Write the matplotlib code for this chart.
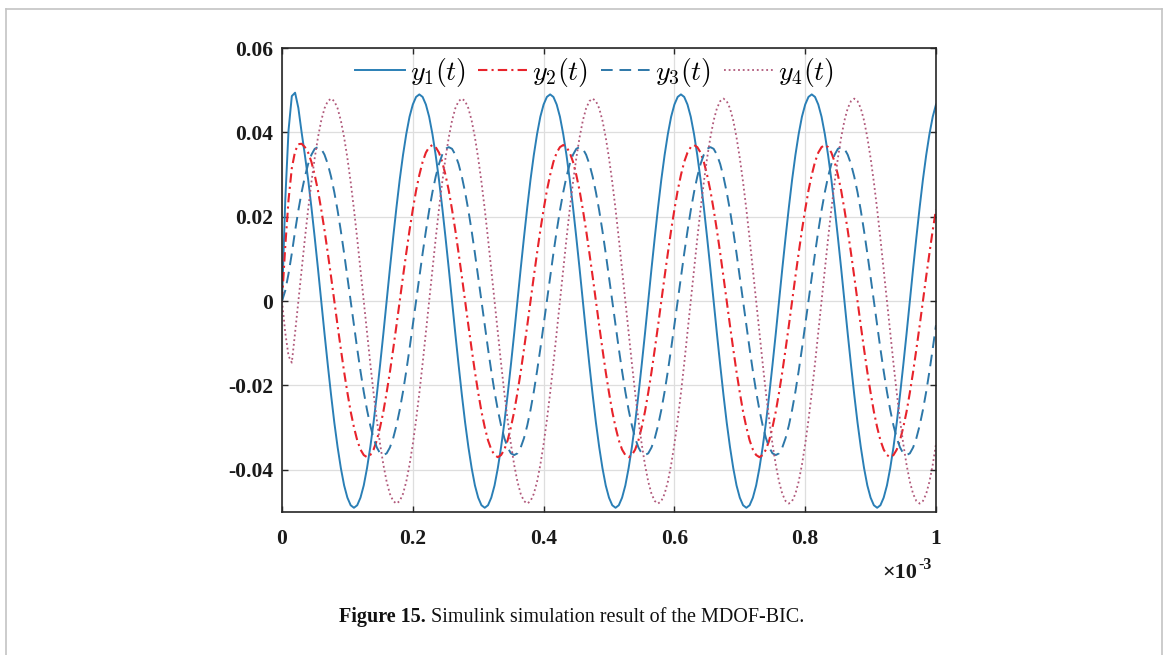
import numpy as np
import matplotlib
matplotlib.use('Agg')
import matplotlib.pyplot as plt
from matplotlib.lines import Line2D

plt.rcParams['mathtext.fontset'] = 'cm'

# ---------------- data (units of 1e-3) -------------
time_step = 0.005  # x-axis units (x 10^-3 s)

y1_milli = [
    0.0, 24.0, 40.5, 48.6, 49.4, 45.8, 40.0,
    34.6, 28.8, 22.2, 15.1, 7.7, 0.0, -7.7, -15.1, -22.2, -28.8, -34.6, -39.6, -43.7, -46.6, -48.4,
    -49.0, -48.4, -46.6, -43.7, -39.6, -34.6, -28.8, -22.2, -15.1, -7.7, 0.0, 7.7, 15.1, 22.2, 28.8, 34.6, 39.6, 43.7, 46.6, 48.4,
    49.0, 48.4, 46.6, 43.7, 39.6, 34.6, 28.8, 22.2, 15.1, 7.7, 0.0, -7.7, -15.1, -22.2, -28.8, -34.6, -39.6, -43.7, -46.6, -48.4,
    -49.0, -48.4, -46.6, -43.7, -39.6, -34.6, -28.8, -22.2, -15.1, -7.7, 0.0, 7.7, 15.1, 22.2, 28.8, 34.6, 39.6, 43.7, 46.6, 48.4,
    49.0, 48.4, 46.6, 43.7, 39.6, 34.6, 28.8, 22.2, 15.1, 7.7, 0.0, -7.7, -15.1, -22.2, -28.8, -34.6, -39.6, -43.7, -46.6, -48.4,
    -49.0, -48.4, -46.6, -43.7, -39.6, -34.6, -28.8, -22.2, -15.1, -7.7, 0.0, 7.7, 15.1, 22.2, 28.8, 34.6, 39.6, 43.7, 46.6, 48.4,
    49.0, 48.4, 46.6, 43.7, 39.6, 34.6, 28.8, 22.2, 15.1, 7.7, 0.0, -7.7, -15.1, -22.2, -28.8, -34.6, -39.6, -43.7, -46.6, -48.4,
    -49.0, -48.4, -46.6, -43.7, -39.6, -34.6, -28.8, -22.2, -15.1, -7.7, 0.0, 7.7, 15.1, 22.2, 28.8, 34.6, 39.6, 43.7, 46.6, 48.4,
    49.0, 48.4, 46.6, 43.7, 39.6, 34.6, 28.8, 22.2, 15.1, 7.7, 0.0, -7.7, -15.1, -22.2, -28.8, -34.6, -39.6, -43.7, -46.6, -48.4,
    -49.0, -48.4, -46.6, -43.7, -39.6, -34.6, -28.8, -22.2, -15.1, -7.7, 0.0, 7.7, 15.1, 22.2, 28.8, 34.6, 39.6, 43.7, 46.6,
]

y2_milli = [
    0.0, 13.0, 24.0, 31.5, 35.5, 37.2, 37.3,
    36.5, 35.2, 33.0, 29.9, 26.2, 21.7, 16.8, 11.4, 5.8, 0.0, -5.8, -11.4, -16.8, -21.7, -26.2, -29.9, -33.0, -35.2, -36.5,
    -37.0, -36.5, -35.2, -33.0, -29.9, -26.2, -21.7, -16.8, -11.4, -5.8, 0.0, 5.8, 11.4, 16.8, 21.7, 26.2, 29.9, 33.0, 35.2, 36.5,
    37.0, 36.5, 35.2, 33.0, 29.9, 26.2, 21.7, 16.8, 11.4, 5.8, 0.0, -5.8, -11.4, -16.8, -21.7, -26.2, -29.9, -33.0, -35.2, -36.5,
    -37.0, -36.5, -35.2, -33.0, -29.9, -26.2, -21.7, -16.8, -11.4, -5.8, 0.0, 5.8, 11.4, 16.8, 21.7, 26.2, 29.9, 33.0, 35.2, 36.5,
    37.0, 36.5, 35.2, 33.0, 29.9, 26.2, 21.7, 16.8, 11.4, 5.8, 0.0, -5.8, -11.4, -16.8, -21.7, -26.2, -29.9, -33.0, -35.2, -36.5,
    -37.0, -36.5, -35.2, -33.0, -29.9, -26.2, -21.7, -16.8, -11.4, -5.8, 0.0, 5.8, 11.4, 16.8, 21.7, 26.2, 29.9, 33.0, 35.2, 36.5,
    37.0, 36.5, 35.2, 33.0, 29.9, 26.2, 21.7, 16.8, 11.4, 5.8, 0.0, -5.8, -11.4, -16.8, -21.7, -26.2, -29.9, -33.0, -35.2, -36.5,
    -37.0, -36.5, -35.2, -33.0, -29.9, -26.2, -21.7, -16.8, -11.4, -5.8, 0.0, 5.8, 11.4, 16.8, 21.7, 26.2, 29.9, 33.0, 35.2, 36.5,
    37.0, 36.5, 35.2, 33.0, 29.9, 26.2, 21.7, 16.8, 11.4, 5.8, 0.0, -5.8, -11.4, -16.8, -21.7, -26.2, -29.9, -33.0, -35.2, -36.5,
    -37.0, -36.5, -35.2, -33.0, -29.9, -26.2, -21.7, -16.8, -11.4, -5.8, 0.0, 5.8, 11.4, 16.8, 21.7,
]

y3_milli = [
    0.0, 2.5, 6.5,
    11.3, 16.6, 21.5, 25.8, 29.5, 32.5, 34.7, 36.1,
    36.5, 36.1, 34.7, 32.5, 29.5, 25.8, 21.5, 16.6, 11.3, 5.7, 0.0, -5.7, -11.3, -16.6, -21.5, -25.8, -29.5, -32.5, -34.7, -36.1,
    -36.5, -36.1, -34.7, -32.5, -29.5, -25.8, -21.5, -16.6, -11.3, -5.7, 0.0, 5.7, 11.3, 16.6, 21.5, 25.8, 29.5, 32.5, 34.7, 36.1,
    36.5, 36.1, 34.7, 32.5, 29.5, 25.8, 21.5, 16.6, 11.3, 5.7, 0.0, -5.7, -11.3, -16.6, -21.5, -25.8, -29.5, -32.5, -34.7, -36.1,
    -36.5, -36.1, -34.7, -32.5, -29.5, -25.8, -21.5, -16.6, -11.3, -5.7, 0.0, 5.7, 11.3, 16.6, 21.5, 25.8, 29.5, 32.5, 34.7, 36.1,
    36.5, 36.1, 34.7, 32.5, 29.5, 25.8, 21.5, 16.6, 11.3, 5.7, 0.0, -5.7, -11.3, -16.6, -21.5, -25.8, -29.5, -32.5, -34.7, -36.1,
    -36.5, -36.1, -34.7, -32.5, -29.5, -25.8, -21.5, -16.6, -11.3, -5.7, 0.0, 5.7, 11.3, 16.6, 21.5, 25.8, 29.5, 32.5, 34.7, 36.1,
    36.5, 36.1, 34.7, 32.5, 29.5, 25.8, 21.5, 16.6, 11.3, 5.7, 0.0, -5.7, -11.3, -16.6, -21.5, -25.8, -29.5, -32.5, -34.7, -36.1,
    -36.5, -36.1, -34.7, -32.5, -29.5, -25.8, -21.5, -16.6, -11.3, -5.7, 0.0, 5.7, 11.3, 16.6, 21.5, 25.8, 29.5, 32.5, 34.7, 36.1,
    36.5, 36.1, 34.7, 32.5, 29.5, 25.8, 21.5, 16.6, 11.3, 5.7, 0.0, -5.7, -11.3, -16.6, -21.5, -25.8, -29.5, -32.5, -34.7, -36.1,
    -36.5, -36.1, -34.7, -32.5, -29.5, -25.8, -21.5, -16.6, -11.3, -5.7,
]

y4_milli = [
    0.0, -7.5, -13.0, -14.6,
    -7.5, 0.0, 7.5, 14.8, 21.8, 28.2, 33.9, 38.8, 42.8, 45.7, 47.4,
    48.0, 47.4, 45.7, 42.8, 38.8, 33.9, 28.2, 21.8, 14.8, 7.5, 0.0, -7.5, -14.8, -21.8, -28.2, -33.9, -38.8, -42.8, -45.7, -47.4,
    -48.0, -47.4, -45.7, -42.8, -38.8, -33.9, -28.2, -21.8, -14.8, -7.5, 0.0, 7.5, 14.8, 21.8, 28.2, 33.9, 38.8, 42.8, 45.7, 47.4,
    48.0, 47.4, 45.7, 42.8, 38.8, 33.9, 28.2, 21.8, 14.8, 7.5, 0.0, -7.5, -14.8, -21.8, -28.2, -33.9, -38.8, -42.8, -45.7, -47.4,
    -48.0, -47.4, -45.7, -42.8, -38.8, -33.9, -28.2, -21.8, -14.8, -7.5, 0.0, 7.5, 14.8, 21.8, 28.2, 33.9, 38.8, 42.8, 45.7, 47.4,
    48.0, 47.4, 45.7, 42.8, 38.8, 33.9, 28.2, 21.8, 14.8, 7.5, 0.0, -7.5, -14.8, -21.8, -28.2, -33.9, -38.8, -42.8, -45.7, -47.4,
    -48.0, -47.4, -45.7, -42.8, -38.8, -33.9, -28.2, -21.8, -14.8, -7.5, 0.0, 7.5, 14.8, 21.8, 28.2, 33.9, 38.8, 42.8, 45.7, 47.4,
    48.0, 47.4, 45.7, 42.8, 38.8, 33.9, 28.2, 21.8, 14.8, 7.5, 0.0, -7.5, -14.8, -21.8, -28.2, -33.9, -38.8, -42.8, -45.7, -47.4,
    -48.0, -47.4, -45.7, -42.8, -38.8, -33.9, -28.2, -21.8, -14.8, -7.5, 0.0, 7.5, 14.8, 21.8, 28.2, 33.9, 38.8, 42.8, 45.7, 47.4,
    48.0, 47.4, 45.7, 42.8, 38.8, 33.9, 28.2, 21.8, 14.8, 7.5, 0.0, -7.5, -14.8, -21.8, -28.2, -33.9, -38.8, -42.8, -45.7, -47.4,
    -48.0, -47.4, -45.7, -42.8, -38.8, -33.9,
]

series_labels = [r'$y_1(t)$', r'$y_2(t)$', r'$y_3(t)$', r'$y_4(t)$']
x_ticks = [0, 0.2, 0.4, 0.6, 0.8, 1.0]
x_tick_labels = ['0', '0.2', '0.4', '0.6', '0.8', '1']
y_ticks = [-0.04, -0.02, 0.0, 0.02, 0.04, 0.06]
y_tick_labels = ['-0.04', '-0.02', '0', '0.02', '0.04', '0.06']
caption_bold = 'Figure 15.'
caption_rest = ' Simulink simulation result of the MDOF-BIC.'

# ---------------- figure ----------------
W, H = 1170, 655
fig = plt.figure(figsize=(W / 100, H / 100), dpi=100)
ax = fig.add_axes([282 / W, 1 - 512 / H, (936 - 282) / W, (512 - 48) / H])

styles = [
    dict(color='#2a7fb6', linestyle='-', linewidth=1.4),
    dict(color='#e8232b', linestyle=(0, (4.5, 2.0, 1.0, 2.0)), linewidth=1.5),
    dict(color='#2d77a8', linestyle=(0, (6.0, 3.5)), linewidth=1.4),
    dict(color='#b0587a', linestyle=(0, (1.0, 1.6)), linewidth=1.3),
]

for ys, lab, st in zip([y1_milli, y2_milli, y3_milli, y4_milli], series_labels, styles):
    y = np.asarray(ys) * 1e-3
    t = np.arange(len(y)) * time_step
    ax.plot(t, y, label=lab, **st)

ax.set_xlim(0, 1.0)
ax.set_ylim(-0.05, 0.06)
ax.set_xticks(x_ticks)
ax.set_xticklabels(x_tick_labels)
ax.set_yticks(y_ticks)
ax.set_yticklabels(y_tick_labels)
ax.grid(True, color='#dedede', linewidth=0.9)
ax.set_axisbelow(True)
ax.tick_params(direction='in', length=4.5, width=1.0, color='#262626',
               top=True, right=True, labelsize=15.5)
ax.tick_params(axis='y', pad=6.5)
ax.tick_params(axis='x', pad=12)
for lbl in ax.get_xticklabels() + ax.get_yticklabels():
    lbl.set_fontfamily('Liberation Serif')
    lbl.set_fontweight('bold')
    lbl.set_color('#1a1a1a')
for sp in ax.spines.values():
    sp.set_color('#262626')
    sp.set_linewidth(1.2)

leg = ax.legend(loc='center', bbox_to_anchor=(0.478, 0.948), ncol=4, frameon=False,
                fontsize=20, handlelength=1.8, handletextpad=0.15, columnspacing=0.45,
                borderpad=0.0, borderaxespad=0.0)

# x10^-3 multiplier
fig.text(917 / W, 1 - 578 / H, '\u00d710', ha='right', va='baseline',
         fontfamily='Liberation Serif', fontweight='bold', fontsize=16, color='#1a1a1a')
fig.text(918 / W, 1 - 569 / H, '-3', ha='left', va='baseline',
         fontfamily='Liberation Serif', fontweight='bold', fontsize=11.5, color='#1a1a1a')

# page frame
frame_col = '#c4c4c4'
fig.add_artist(Line2D([6 / W, 1162 / W], [1 - 9 / H, 1 - 9 / H], transform=fig.transFigure, color=frame_col, lw=1.2))
fig.add_artist(Line2D([6 / W, 6 / W], [0, 1 - 9 / H], transform=fig.transFigure, color=frame_col, lw=1.2))
fig.add_artist(Line2D([1162 / W, 1162 / W], [0, 1 - 9 / H], transform=fig.transFigure, color=frame_col, lw=1.2))

# caption: bold part + regular part centred together
cap_y = 1 - 622 / H
tb = fig.text(0, cap_y, caption_bold, ha='left', va='baseline', fontfamily='Liberation Serif',
              fontweight='bold', fontsize=14.5, color='#111111')
tr = fig.text(0, cap_y, caption_rest, ha='left', va='baseline', fontfamily='Liberation Serif',
              fontsize=14.5, color='#111111')
fig.canvas.draw()
r = fig.canvas.get_renderer()
wb = tb.get_window_extent(r).width
wr = tr.get_window_extent(r).width
total = wb + wr
x0 = 572 - total / 2
tb.set_x(x0 / W)
tr.set_x((x0 + wb) / W)

fig.savefig('out.png', dpi=100)
